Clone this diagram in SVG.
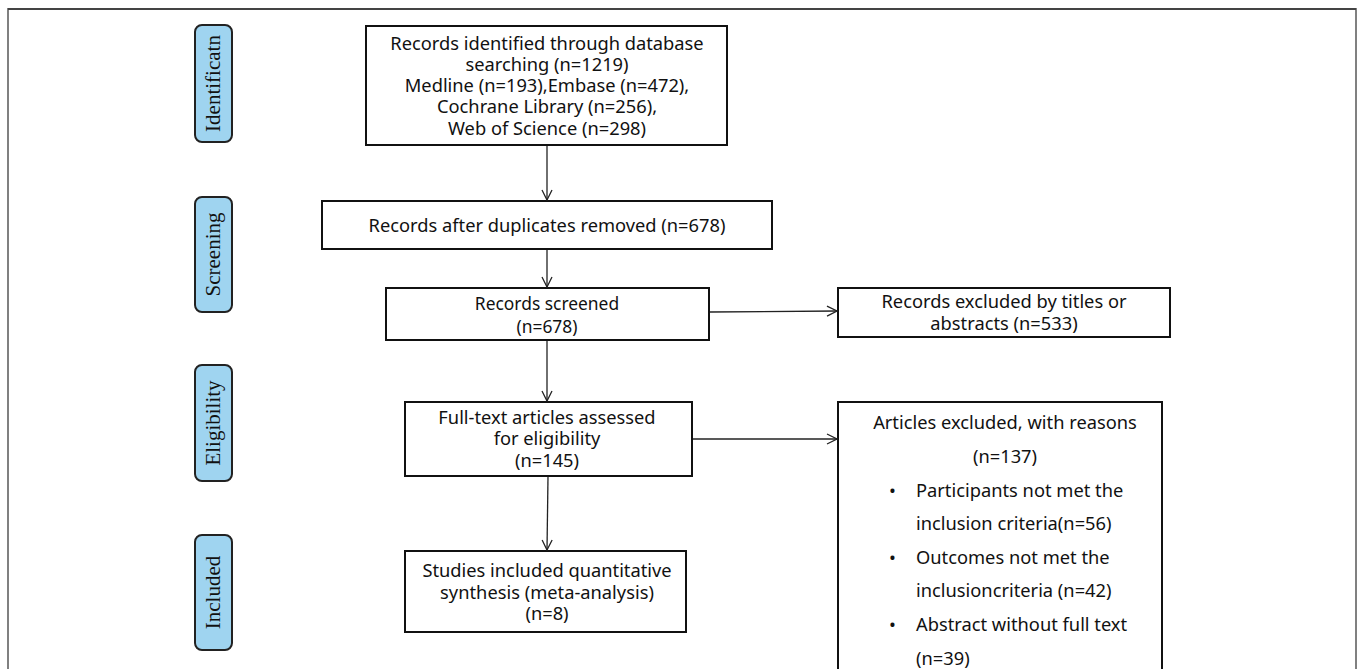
<svg xmlns="http://www.w3.org/2000/svg" width="1357" height="669" viewBox="0 0 1357 669">
<style>
.frame{fill:none;stroke:#808080;stroke-width:2}
.stage rect{fill:#9fd4f0;stroke:#222;stroke-width:2}
.stage text{font-family:"Liberation Serif",serif;font-size:21px;fill:#111;text-anchor:middle}
.box rect{fill:#fff;stroke:#111;stroke-width:2}
.box text{font-family:"Noto Sans","Open Sans",sans-serif;font-size:18.3px;fill:#111;text-anchor:middle}
.box text.l{text-anchor:start}
.conn line{stroke:#222;stroke-width:1.3;fill:none}
</style>
<defs>
<marker id="arr" viewBox="0 0 12 12" refX="11" refY="6" markerWidth="12" markerHeight="12" markerUnits="userSpaceOnUse" orient="auto">
<path d="M1,1 L11,6 L1,11" fill="none" stroke="#222" stroke-width="1.3"/>
</marker>
</defs>
<rect width="1357" height="669" fill="#fff"/>
<path class="frame" d="M8,669 V9 H1356 V669"/>
<path d="M8,9 H1356" stroke="#444" stroke-width="2"/>

<g id="stage-identification" class="stage"><rect x="195" y="25" width="37" height="117" rx="7"/><text transform="translate(220,83.5) rotate(-90)">Identificatn</text></g>
<g id="stage-screening" class="stage"><rect x="195" y="197" width="37" height="115" rx="7"/><text transform="translate(220,254.5) rotate(-90)">Screening</text></g>
<g id="stage-eligibility" class="stage"><rect x="195" y="365" width="37" height="116" rx="7"/><text transform="translate(220,423) rotate(-90)">Eligibility</text></g>
<g id="stage-included" class="stage"><rect x="195" y="535" width="37" height="115" rx="7"/><text transform="translate(220,592.5) rotate(-90)">Included</text></g>

<g id="n-identified" class="box"><rect x="366" y="26" width="361" height="119"/>
<text x="547" y="50">Records identified through database</text>
<text x="547" y="71">searching (n=1219)</text>
<text x="547" y="92">Medline (n=193),Embase (n=472),</text>
<text x="547" y="113">Cochrane Library (n=256),</text>
<text x="547" y="135">Web of Science (n=298)</text></g>

<g id="n-duplicates" class="box"><rect x="322" y="201" width="450" height="48"/>
<text x="547" y="232">Records after duplicates removed (n=678)</text></g>

<g id="n-screened" class="box"><rect x="386" y="288" width="323" height="52"/>
<text x="547" y="310" style="font-size:17.4px">Records screened</text>
<text x="547" y="333" style="font-size:17.4px">(n=678)</text></g>

<g id="n-excluded-titles" class="box"><rect x="838" y="288" width="332" height="49"/>
<text x="1004" y="308">Records excluded by titles or</text>
<text x="1004" y="330">abstracts (n=533)</text></g>

<g id="n-fulltext" class="box"><rect x="405" y="402" width="287" height="74"/>
<text x="547" y="424">Full-text articles assessed</text>
<text x="547" y="445">for eligibility</text>
<text x="547" y="467">(n=145)</text></g>

<g id="n-excluded-reasons" class="box"><rect x="838" y="402" width="324" height="280"/>
<text x="1005" y="429">Articles excluded, with reasons</text>
<text x="1005" y="463">(n=137)</text>
<text class="l" x="889" y="497">•</text><text class="l" x="916" y="497">Participants not met the</text>
<text class="l" x="916" y="530">inclusion criteria(n=56)</text>
<text class="l" x="889" y="564">•</text><text class="l" x="916" y="564">Outcomes not met the</text>
<text class="l" x="916" y="597">inclusioncriteria (n=42)</text>
<text class="l" x="889" y="631">•</text><text class="l" x="916" y="631">Abstract without full text</text>
<text class="l" x="916" y="665">(n=39)</text></g>

<g id="n-included" class="box"><rect x="405" y="551" width="281" height="81"/>
<text x="547" y="577">Studies included quantitative</text>
<text x="547" y="599">synthesis (meta-analysis)</text>
<text x="547" y="620">(n=8)</text></g>

<g id="connectors" class="conn">
<line x1="547" y1="146" x2="547" y2="200" marker-end="url(#arr)"/>
<line x1="547" y1="250" x2="547" y2="287" marker-end="url(#arr)"/>
<line x1="710" y1="312" x2="837" y2="311" marker-end="url(#arr)"/>
<line x1="547" y1="341" x2="547" y2="401" marker-end="url(#arr)"/>
<line x1="693" y1="439" x2="837" y2="439" marker-end="url(#arr)"/>
<line x1="548" y1="477" x2="547" y2="550" marker-end="url(#arr)"/>
</g>
</svg>
